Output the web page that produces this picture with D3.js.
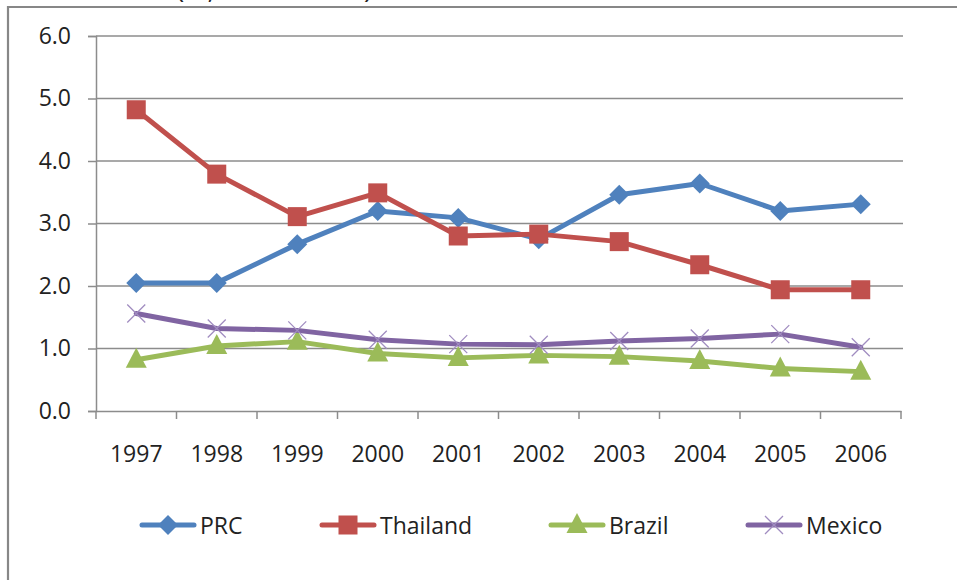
<!DOCTYPE html>
<html>
<head>
<meta charset="utf-8">
<script src="https://cdn.jsdelivr.net/npm/d3@7"></script>
<style>
  body { margin: 0; background: #fff; }
  text { font-family: "Open Sans", sans-serif; fill: #222; }
</style>
</head>
<body>
<div id="main"></div>
<script>
const years = ["1997", "1998", "1999", "2000", "2001", "2002", "2003", "2004", "2005", "2006"];
const prc      = [2.05, 2.05, 2.67, 3.20, 3.09, 2.75, 3.46, 3.64, 3.20, 3.31];
const thailand = [4.82, 3.79, 3.11, 3.49, 2.80, 2.83, 2.71, 2.34, 1.94, 1.94];
const brazil   = [0.82, 1.04, 1.11, 0.92, 0.85, 0.89, 0.87, 0.80, 0.68, 0.63];
const mexico   = [1.56, 1.32, 1.29, 1.14, 1.07, 1.06, 1.12, 1.16, 1.23, 1.02];
const yTicks = [0, 1, 2, 3, 4, 5, 6];
const seriesNames = ["PRC", "Thailand", "Brazil", "Mexico"];

const ctx = { w: 957, h: 580 };

function drawMarker(g, kind, color, x, y) {
    if (kind === "diamond") {
        g.append("path")
            .attr("d", `M${x},${y - 10}L${x + 10},${y}L${x},${y + 10}L${x - 10},${y}Z`)
            .attr("fill", color);
    } else if (kind === "square") {
        g.append("rect")
            .attr("x", x - 9.5).attr("y", y - 9.5)
            .attr("width", 19).attr("height", 19)
            .attr("fill", color);
    } else if (kind === "triangle") {
        g.append("path")
            .attr("d", `M${x},${y - 12}L${x + 10.5},${y + 8}L${x - 10.5},${y + 8}Z`)
            .attr("fill", color);
    } else {
        g.append("path")
            .attr("d", `M${x - 9},${y - 9}L${x + 9},${y + 9}M${x - 9},${y + 9}L${x + 9},${y - 9}`)
            .attr("stroke", "#a08cc0")
            .attr("stroke-width", 1.3)
            .attr("fill", "none");
    }
}

function createViz() {
    const svg = d3.select("#main").append("svg")
        .attr("width", ctx.w)
        .attr("height", ctx.h);

    // title sits above the visible area, only its lowest strokes show
    svg.append("text")
        .attr("x", 176).attr("y", -2)
        .style("font-size", "28px")
        .text("(%, 1997\u20132006)");

    // chart frame
    svg.append("path")
        .attr("d", `M8,${ctx.h + 5}L8,7L${ctx.w + 5},7`)
        .attr("fill", "none")
        .attr("stroke", "#878787")
        .attr("stroke-width", 2.2);

    const x = d3.scaleBand().domain(years).range([96, 901]);
    const y = d3.scaleLinear().domain([0, 6]).range([411, 36]);

    // gridlines
    svg.append("g").selectAll("line")
        .data(yTicks.filter(d => d > 0))
        .join("line")
        .attr("x1", 96).attr("x2", 903)
        .attr("y1", d => y(d)).attr("y2", d => y(d))
        .attr("stroke", "#8c8c8c")
        .attr("stroke-width", 1.5);

    // y axis
    const yAxis = svg.append("g")
        .attr("transform", "translate(96,0)")
        .call(d3.axisLeft(y).tickValues(yTicks).tickFormat(d3.format(".1f")).tickSize(8).tickPadding(17));
    yAxis.select(".domain").attr("stroke", "#8c8c8c").attr("stroke-width", 1.5);
    yAxis.selectAll(".tick line").attr("stroke", "#8c8c8c").attr("stroke-width", 1.5);
    yAxis.selectAll("text").style("font-size", "23px").style("font-family", "Open Sans").attr("fill", "#222");

    // x axis
    const xAxis = svg.append("g")
        .attr("transform", "translate(0,411)")
        .call(d3.axisBottom(x).tickSize(0).tickPadding(35));
    xAxis.select(".domain").attr("stroke", "#8c8c8c").attr("stroke-width", 1.5);
    xAxis.selectAll("text").style("font-size", "23px").style("font-family", "Open Sans").attr("fill", "#222");
    const bounds = years.map(d => x(d)).concat([x(years[years.length - 1]) + x.bandwidth()]);
    xAxis.selectAll(".bound")
        .data(bounds)
        .join("line")
        .attr("class", "bound")
        .attr("x1", d => d).attr("x2", d => d)
        .attr("y1", 0).attr("y2", 8)
        .attr("stroke", "#8c8c8c")
        .attr("stroke-width", 1.5);

    const series = [
        { name: "PRC", values: prc, color: "#4f81bd", marker: "diamond" },
        { name: "Thailand", values: thailand, color: "#c0504d", marker: "square" },
        { name: "Brazil", values: brazil, color: "#9bbb59", marker: "triangle" },
        { name: "Mexico", values: mexico, color: "#8064a2", marker: "cross" }
    ];

    const line = d3.line()
        .x((d, i) => x(years[i]) + x.bandwidth() / 2)
        .y(d => y(d));

    series.forEach(s => {
        const g = svg.append("g");
        g.append("path")
            .datum(s.values)
            .attr("d", line)
            .attr("fill", "none")
            .attr("stroke", s.color)
            .attr("stroke-width", 5)
            .attr("stroke-linejoin", "round")
            .attr("stroke-linecap", "round");
        s.values.forEach((v, i) => drawMarker(g, s.marker, s.color, x(years[i]) + x.bandwidth() / 2, y(v)));
    });

    // legend
    const legendX = [142, 322, 551, 748];
    const legendY = 525;
    series.forEach((s, i) => {
        const g = svg.append("g");
        g.append("line")
            .attr("x1", legendX[i]).attr("x2", legendX[i] + 52)
            .attr("y1", legendY).attr("y2", legendY)
            .attr("stroke", s.color)
            .attr("stroke-width", 5)
            .attr("stroke-linecap", "round");
        drawMarker(g, s.marker, s.color, legendX[i] + 26, legendY);
        g.append("text")
            .attr("x", legendX[i] + 58).attr("y", legendY + 8.5)
            .style("font-size", "23px")
            .text(seriesNames[i]);
    });
}

createViz();
</script>
</body>
</html>
